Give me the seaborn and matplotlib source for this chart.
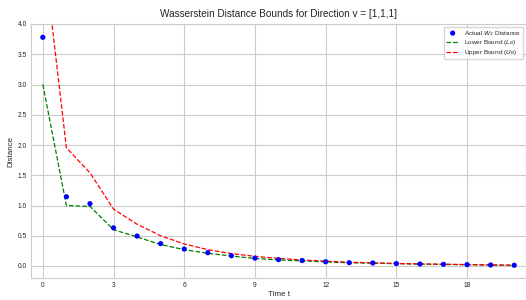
import numpy as np
import pandas as pd
import matplotlib
matplotlib.use("Agg")
import matplotlib.pyplot as plt
import seaborn as sns

t = list(range(21))
actual = [3.78, 1.145, 1.03, 0.63, 0.495, 0.37, 0.28, 0.22, 0.17, 0.13, 0.105,
          0.09, 0.07, 0.055, 0.05, 0.04, 0.033, 0.028, 0.023, 0.017, 0.012]
lower = [3.0, 1.0, 0.985, 0.60, 0.48, 0.355, 0.27, 0.21, 0.165, 0.125, 0.10,
         0.085, 0.068, 0.053, 0.047, 0.038, 0.031, 0.026, 0.021, 0.016, 0.011]
upper = [5.3, 1.955, 1.54, 0.94, 0.69, 0.50, 0.365, 0.27, 0.205, 0.16, 0.125,
         0.10, 0.08, 0.062, 0.052, 0.042, 0.035, 0.029, 0.024, 0.018, 0.013]

df = pd.DataFrame({'t': t, 'actual': actual, 'lower': lower, 'upper': upper})

sns.set_theme(style='whitegrid')
plt.rcParams['font.family'] = ['Liberation Sans', 'DejaVu Sans']

fig = plt.figure(figsize=(5.26, 3.0), dpi=100)
ax = fig.add_axes([0.059, 0.073, 0.941, 0.847])

sns.scatterplot(data=df, x='t', y='actual', color='blue', s=14, edgecolor='none',
                label='Actual $W_2$ Distance', zorder=3, ax=ax)
sns.lineplot(data=df, x='t', y='lower', color='green', linestyle='--', linewidth=0.9,
             label='Lower Bound ($L_B$)', ax=ax)
sns.lineplot(data=df, x='t', y='upper', color='red', linestyle='--', linewidth=0.9,
             label='Upper Bound ($U_B$)', ax=ax)

ax.set_xlim(-0.5, 20.5)
ax.set_ylim(-0.2, 4.0)
ax.set_xticks([0, 3, 6, 9, 12, 15, 18])
ax.set_yticks(np.arange(0, 4.01, 0.5))
ax.tick_params(labelsize=4.8, length=0, pad=3)
ax.set_title('Wasserstein Distance Bounds for Direction v = [1,1,1]', fontsize=7.2, pad=5)
ax.set_xlabel('Time t', fontsize=5.8, labelpad=1)
ax.set_ylabel('Distance', fontsize=5.8, labelpad=2)
ax.legend(loc='upper right', fontsize=4.6, frameon=True, borderpad=0.35,
          labelspacing=0.12, handlelength=2, handletextpad=0.8, borderaxespad=0.4)
for s in ax.spines.values():
    s.set_linewidth(0.8)
ax.grid(linewidth=0.8)

fig.savefig('out.png', dpi=100)
